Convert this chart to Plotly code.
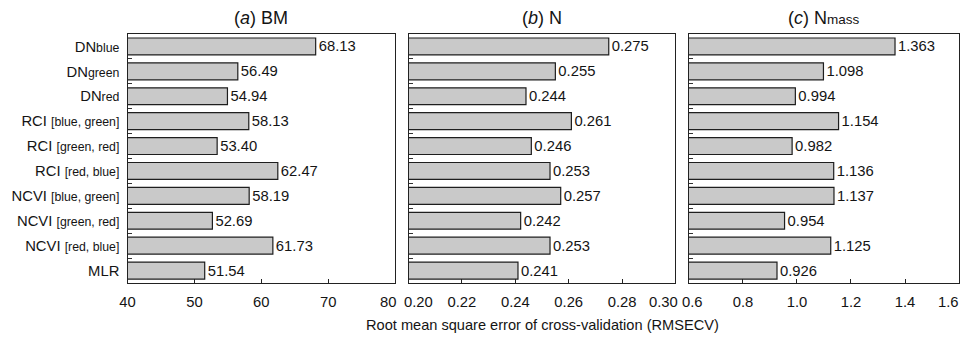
import plotly.graph_objects as go

# Model names (main part, smaller suffix)
name_main = ["DN", "DN", "DN", "RCI ", "RCI ", "RCI ", "NCVI ", "NCVI ", "NCVI ", "MLR"]
name_sub = ["blue", "green", "red", "[blue, green]", "[green, red]", "[red, blue]",
            "[blue, green]", "[green, red]", "[red, blue]", ""]

# RMSECV values per trait
bm = [68.13, 56.49, 54.94, 58.13, 53.40, 62.47, 58.19, 52.69, 61.73, 51.54]
n = [0.275, 0.255, 0.244, 0.261, 0.246, 0.253, 0.257, 0.242, 0.253, 0.241]
nmass = [1.363, 1.098, 0.994, 1.154, 0.982, 1.136, 1.137, 0.954, 1.125, 0.926]

bm_ticks = [40, 50, 60, 70, 80]
n_ticks = [0.20, 0.22, 0.24, 0.26, 0.28, 0.30]
nmass_ticks = [0.6, 0.8, 1.0, 1.2, 1.4, 1.6]

categories = [
    m + (f"<span style='font-size:12.3px'>{s}</span>" if s else "")
    for m, s in zip(name_main, name_sub)
]

FONT = "Liberation Sans, Arial, sans-serif"
TXT = "#141414"
TICK_Y = 1 - 302 / 337
fig = go.Figure()

panels = [
    (bm, bm_ticks, lambda t: f"{t:g}", "{:.2f}", [0.1316, 0.4077],
     "(<i>a</i>) BM"),
    (n, n_ticks, lambda t: f"{t:.2f}", "{:.3f}", [0.4216, 0.6971],
     "(<i>b</i>) N"),
    (nmass, nmass_ticks, lambda t: f"{t:.1f}", "{:.3f}", [0.7110, 0.9897],
     "(<i>c</i>) N<span style='font-size:13.5px'>mass</span>"),
]

# Edge labels that sit flush against the neighbouring panel are placed
# as anchored annotations so they hug the panel edges without colliding.
edge_labels = {
    0: [(None, None, None), (-1, "right", 2)],
    1: [(0, "left", -6), (-1, "right", 4)],
    2: [(0, "left", -8), (-1, "right", 1)],
}

for i, (vals, ticks, tfmt, fmt, dom, title) in enumerate(panels):
    sfx = "" if i == 0 else str(i + 1)
    fig.add_trace(go.Bar(
        x=vals, y=categories, orientation="h",
        xaxis="x" + sfx, yaxis="y" + sfx,
        marker=dict(color="#c9c9c9", line=dict(color="#1e1e1e", width=1.2)),
        width=0.68,
        text=[fmt.format(v) for v in vals], textposition="outside",
        textfont=dict(family=FONT, size=14.8, color=TXT),
        cliponaxis=False, showlegend=False, hoverinfo="skip",
    ))

    ticktext = [tfmt(t) for t in ticks]
    for idx, anchor, shift in edge_labels[i]:
        if idx is None:
            continue
        label = ticktext[idx]
        ticktext[idx] = ""
        fig.add_annotation(
            text=label, x=ticks[idx], xref="x" + sfx, y=TICK_Y, yref="paper",
            xanchor=anchor, yanchor="middle", xshift=shift, showarrow=False,
            font=dict(family=FONT, size=14.8, color=TXT), borderpad=0,
        )

    fig.layout["xaxis" + sfx] = dict(
        domain=dom, range=[ticks[0], ticks[-1]],
        tickvals=ticks, ticktext=ticktext,
        ticks="inside", ticklen=4, tickcolor="#222", tickwidth=1,
        showline=True, linecolor="#222", linewidth=1.4, mirror=True,
        showgrid=False, zeroline=False, anchor="y" + sfx, automargin=False,
        tickfont=dict(family=FONT, size=14.8, color=TXT),
        ticklabelstandoff=5, ticklabeloverflow="allow",
    )
    fig.layout["yaxis" + sfx] = dict(
        domain=[0.1602, 0.8991], autorange="reversed",
        categoryorder="array", categoryarray=categories,
        ticks="inside", ticklen=4, tickcolor="#333", tickwidth=1,
        tickson="boundaries", showticklabels=(i == 0),
        showline=True, linecolor="#222", linewidth=1.4, mirror=True,
        showgrid=False, zeroline=False, anchor="x" + sfx, automargin=False,
        tickfont=dict(family=FONT, size=14.8, color=TXT),
        ticklabelstandoff=4,
    )
    fig.add_annotation(
        text=title, x=(dom[0] + dom[1]) / 2, y=1 - 18 / 337,
        xref="paper", yref="paper", showarrow=False,
        font=dict(family=FONT, size=18, color=TXT),
        xanchor="center", yanchor="middle",
    )

fig.add_annotation(
    text="Root mean square error of cross-validation (RMSECV)",
    x=(0.4216 + 0.6971) / 2, y=1 - 325 / 337, xref="paper", yref="paper",
    showarrow=False, font=dict(family=FONT, size=14.6, color=TXT),
    xanchor="center", yanchor="middle",
)

fig.update_layout(
    template="none",
    width=969, height=337, margin=dict(l=0, r=0, t=0, b=0),
    paper_bgcolor="white", plot_bgcolor="white",
)

fig.write_html("out.html")
